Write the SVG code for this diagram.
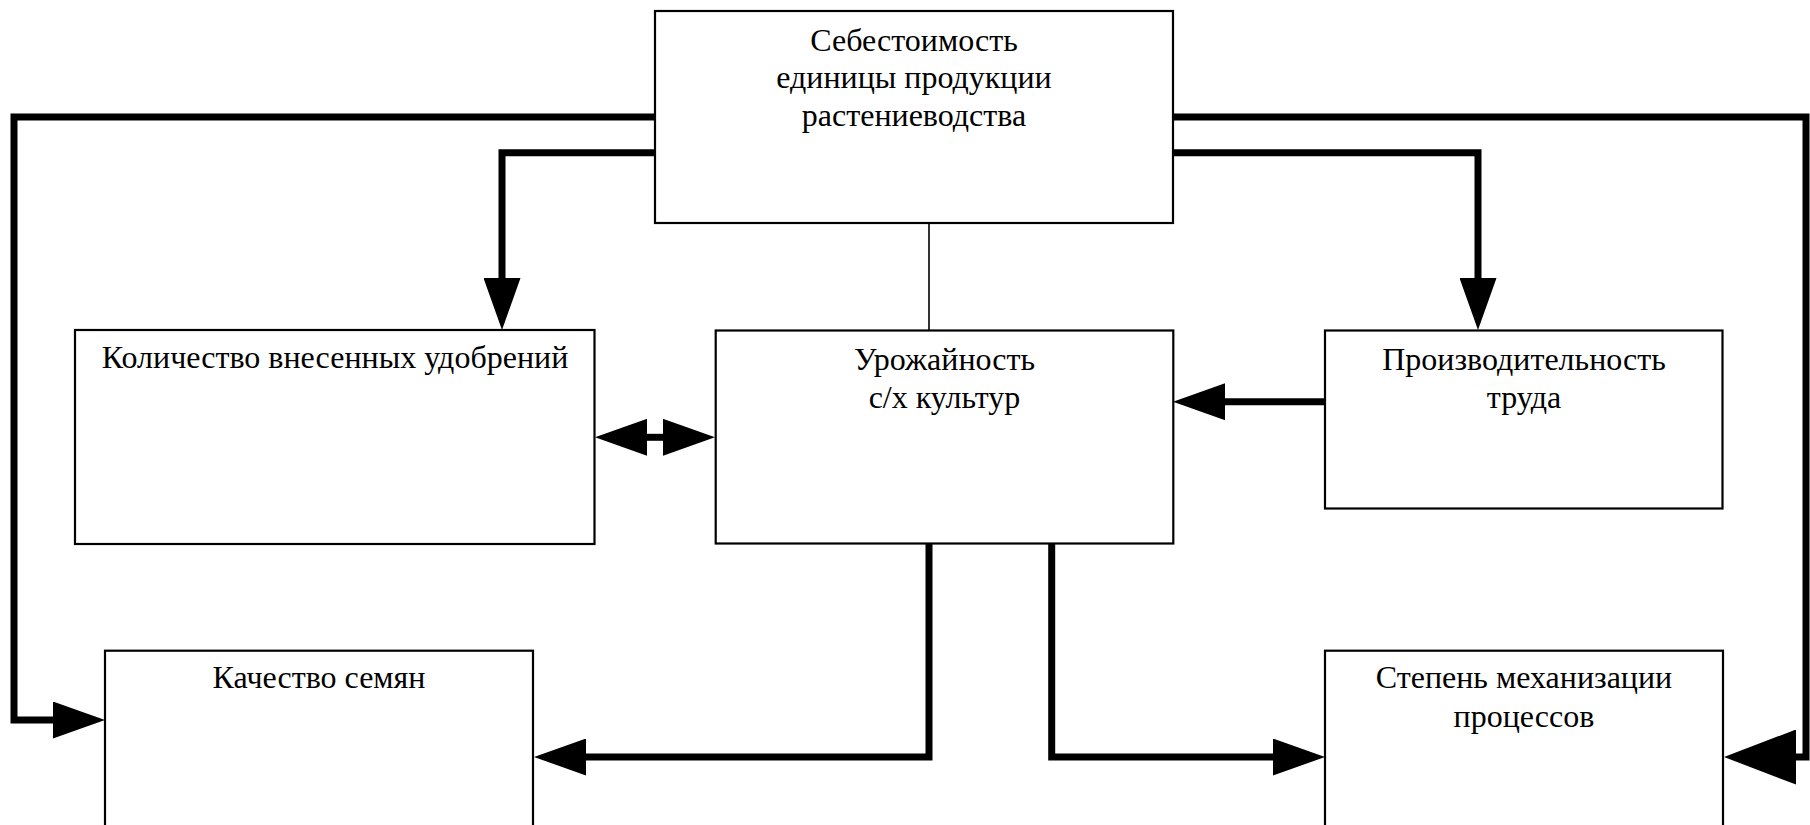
<svg xmlns="http://www.w3.org/2000/svg" width="1810" height="825" viewBox="0 0 1810 825">
<style>
.box{fill:#fff;stroke:#000;stroke-width:2.2}
.t{font-family:"Liberation Serif","Times New Roman",serif;font-size:32px;fill:#000;text-anchor:middle}
.c{fill:none;stroke:#000;stroke-width:7;stroke-linejoin:miter}
.thin{fill:none;stroke:#000;stroke-width:1.6}
</style>
<defs>
<marker id="arr" markerUnits="userSpaceOnUse" viewBox="0 0 52 37" markerWidth="52" markerHeight="37" refX="0" refY="18.5" orient="auto-start-reverse">
<path d="M0,0 L52,18.5 L0,37 Z" fill="#000"/>
</marker>
<marker id="big" markerUnits="userSpaceOnUse" viewBox="0 0 72 55" markerWidth="72" markerHeight="55" refX="0" refY="27.5" orient="auto">
<path d="M0,0 L72,27.5 L0,55 Z" fill="#000"/>
</marker>
</defs>
<rect width="1810" height="825" fill="#fff"/>
<g id="connectors">
<path class="c" d="M655,117 H14 V720 H53" marker-end="url(#arr)"/>
<path class="c" d="M655,152.7 H502 V278" marker-end="url(#arr)"/>
<path class="c" d="M1173,117 H1806 V757 H1796" marker-end="url(#big)"/>
<path class="c" d="M1173,152.7 H1478 V278" marker-end="url(#arr)"/>
<path class="c" d="M1325,401.7 H1225" marker-end="url(#arr)"/>
<path class="thin" d="M929,223 V330.5"/>
<path class="c" d="M929,544 V757 H586" marker-end="url(#arr)"/>
<path class="c" d="M1051.7,544 V757 H1273" marker-end="url(#arr)"/>
<path class="c" d="M647,437.3 H663" marker-start="url(#arr)" marker-end="url(#arr)"/>
</g>
<g id="node-cost">
<rect class="box" x="655" y="11" width="518" height="212"/>
<text class="t" x="914" y="50.7">Себестоимость</text>
<text class="t" x="914" y="88.3">единицы продукции</text>
<text class="t" x="914" y="126">растениеводства</text>
</g>
<g id="node-fertilizer">
<rect class="box" x="75" y="330" width="519.5" height="214"/>
<text class="t" x="335" y="368">Количество внесенных удобрений</text>
</g>
<g id="node-yield">
<rect class="box" x="715.7" y="330.5" width="457.6" height="213"/>
<text class="t" x="944.5" y="370">Урожайность</text>
<text class="t" x="944.5" y="408.3">с/х культур</text>
</g>
<g id="node-productivity">
<rect class="box" x="1325" y="330.5" width="397.5" height="178"/>
<text class="t" x="1524" y="370">Производительность</text>
<text class="t" x="1524" y="408.3">труда</text>
</g>
<g id="node-seeds">
<rect class="box" x="105" y="650.7" width="428" height="200"/>
<text class="t" x="319" y="688.3">Качество семян</text>
</g>
<g id="node-mechanization">
<rect class="box" x="1325" y="650.7" width="398" height="200"/>
<text class="t" x="1524" y="688.3">Степень механизации</text>
<text class="t" x="1524" y="726.7">процессов</text>
</g>
</svg>
